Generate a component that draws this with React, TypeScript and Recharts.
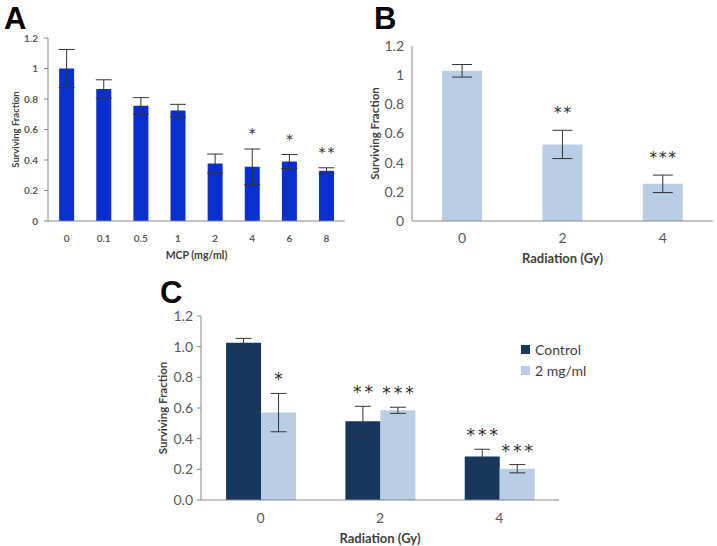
import { BarChart, Bar, XAxis, YAxis, ErrorBar, LabelList, Label } from "recharts"

// Panel A: MCP dose response
const mcpDoses = ["0", "0.1", "0.5", "1", "2", "4", "6", "8"]
const mcpSurvival = [1.0, 0.866, 0.755, 0.724, 0.377, 0.355, 0.39, 0.329]
const mcpError = [0.125, 0.06, 0.054, 0.041, 0.062, 0.117, 0.046, 0.02]
const mcpStars = ["", "", "", "", "", "*", "*", "**"]

// Panel B: radiation alone
const radDoses = ["0", "2", "4"]
const radSurvival = [1.03, 0.525, 0.255]
const radError = [0.043, 0.097, 0.06]
const radStars = ["", "**", "***"]

// Panel C: radiation +/- 2 mg/ml MCP
const comboSeries = ["Control", "2 mg/ml"]
const controlSurvival = [1.026, 0.513, 0.283]
const controlError = [0.028, 0.098, 0.048]
const controlStars = ["", "**", "***"]
const mcpComboSurvival = [0.57, 0.585, 0.204]
const mcpComboError = [0.125, 0.02, 0.027]
const mcpComboStars = ["*", "***", "***"]

const ticks12 = [0, 0.2, 0.4, 0.6, 0.8, 1, 1.2]

const dataA = mcpDoses.map((d, i) => ({ dose: d, sf: mcpSurvival[i], err: mcpError[i], stars: mcpStars[i] }))
const dataB = radDoses.map((d, i) => ({ dose: d, sf: radSurvival[i], err: radError[i], stars: radStars[i] }))
const dataC = radDoses.map((d, i) => ({
  dose: d,
  control: controlSurvival[i],
  controlErr: controlError[i],
  controlStars: controlStars[i],
  mcp: mcpComboSurvival[i],
  mcpErr: mcpComboError[i],
  mcpStars: mcpComboStars[i],
}))

const FONT = "Lato, 'Open Sans', Arial, sans-serif"
const AXIS = "#868686"
const TICK = "#595959"
const TITLE = "#404040"
const NAVY = "#17375e"
const LIGHT = "#b9cde5"

// draws significance stars above the error bar, using the bar's own pixel scale
const starLabel = (values: number[], errs: number[], stars: string[], lift: number, size: number, spacing: number) =>
  (p: any) => {
    const i = p.index
    if (i == null || !stars[i]) return null
    const pxPerUnit = p.height / values[i]
    const top = p.y - errs[i] * pxPerUnit
    return (
      <text
        x={p.x + p.width / 2 + spacing / 2}
        y={top - lift}
        textAnchor="middle"
        fontSize={size}
        fontFamily="'DejaVu Sans', sans-serif"
        fill="#2a2a2a"
        stroke="none"
        letterSpacing={spacing}
      >
        {stars[i]}
      </text>
    )
  }

const fmt = (v: number) => String(Math.round(v * 10) / 10)

function PanelA() {
  return (
    <BarChart width={360} height={275} data={dataA} margin={{ top: 38, right: 15, left: 8, bottom: 14 }} barCategoryGap="30%">
      <XAxis
        dataKey="dose"
        height={40}
        tickLine={false}
        stroke={AXIS}
        tick={{ fontSize: 10, fill: TICK, fontFamily: FONT, fontWeight: 700 }}
        tickMargin={8}
      >
        <Label value="MCP (mg/ml)" position="insideBottom" offset={2} style={{ fontSize: 10.5, fontWeight: 700, fill: TITLE, fontFamily: FONT }} />
      </XAxis>
      <YAxis
        width={40}
        domain={[0, 1.2]}
        ticks={ticks12}
        tickFormatter={fmt}
        stroke={AXIS}
        tickSize={4}
        tickMargin={6}
        tick={{ fontSize: 10, fill: TICK, fontFamily: FONT, fontWeight: 700 }}
      >
        <Label value="Surviving Fraction" angle={-90} position="insideLeft" offset={8} style={{ textAnchor: "middle", fontSize: 9.5, fontWeight: 700, fill: TITLE, fontFamily: FONT }} />
      </YAxis>
      <Bar dataKey="sf" fill="#0a2fd0" isAnimationActive={false}>
        <ErrorBar dataKey="err" width={8} stroke="#333" strokeWidth={1} />
        <LabelList dataKey="stars" content={starLabel(mcpSurvival, mcpError, mcpStars, 11, 14, 2)} />
      </Bar>
    </BarChart>
  )
}

function PanelB() {
  return (
    <BarChart width={357} height={275} data={dataB} margin={{ top: 46, right: 4, left: 12, bottom: 14 }} barCategoryGap="30%">
      <XAxis
        dataKey="dose"
        height={40}
        tickLine={false}
        stroke={AXIS}
        tick={{ fontSize: 14, fill: TICK, fontFamily: FONT }}
        tickMargin={6}
      >
        <Label value="Radiation (Gy)" position="insideBottom" offset={-2} style={{ fontSize: 13, fontWeight: 700, fill: TITLE, fontFamily: FONT }} />
      </XAxis>
      <YAxis
        width={40}
        domain={[0, 1.2]}
        ticks={ticks12}
        tickFormatter={fmt}
        stroke={AXIS}
        tickSize={0}
        tickMargin={8}
        tick={{ fontSize: 14, fill: TICK, fontFamily: FONT }}
      >
        <Label value="Surviving Fraction" angle={-90} position="insideLeft" offset={3} style={{ textAnchor: "middle", fontSize: 11.5, fontWeight: 700, fill: TITLE, fontFamily: FONT }} />
      </YAxis>
      <Bar dataKey="sf" fill={LIGHT} isAnimationActive={false}>
        <ErrorBar dataKey="err" width={10} stroke="#333" strokeWidth={1} />
        <LabelList dataKey="stars" content={starLabel(radSurvival, radError, radStars, 12, 15, 2)} />
      </Bar>
    </BarChart>
  )
}

function ComboLegend() {
  return (
    <div style={{ fontFamily: FONT, fontSize: 14, color: TITLE }}>
      {comboSeries.map((name, i) => (
        <div key={name} style={{ display: "flex", alignItems: "center", height: 21 }}>
          <span style={{ width: 9, height: 9, background: i === 0 ? NAVY : LIGHT, marginRight: 5 }} />
          {name}
        </div>
      ))}
    </div>
  )
}

function PanelC() {
  return (
    <BarChart width={567} height={266} data={dataC} margin={{ top: 36, right: 158, left: 11, bottom: 6 }} barCategoryGap="21%" barGap={0}>
      <XAxis
        dataKey="dose"
        height={40}
        tickLine={false}
        stroke={AXIS}
        tick={{ fontSize: 14, fill: TICK, fontFamily: FONT }}
        tickMargin={7}
      >
        <Label value="Radiation (Gy)" position="insideBottom" offset={-3} style={{ fontSize: 13, fontWeight: 700, fill: TITLE, fontFamily: FONT }} />
      </XAxis>
      <YAxis
        width={40}
        domain={[0, 1.2]}
        ticks={ticks12}
        tickFormatter={(v: number) => v.toFixed(1)}
        stroke={AXIS}
        tickSize={4}
        tickMargin={4}
        tick={{ fontSize: 14, fill: TICK, fontFamily: FONT }}
      >
        <Label value="Surviving Fraction" angle={-90} position="insideLeft" offset={2} style={{ textAnchor: "middle", fontSize: 11.5, fontWeight: 700, fill: TITLE, fontFamily: FONT }} />
      </YAxis>
      <Bar dataKey="control" name="Control" fill={NAVY} isAnimationActive={false}>
        <ErrorBar dataKey="controlErr" width={8} stroke="#333" strokeWidth={1} />
        <LabelList dataKey="controlStars" content={starLabel(controlSurvival, controlError, controlStars, 8, 17, 3)} />
      </Bar>
      <Bar dataKey="mcp" name="2 mg/ml" fill={LIGHT} isAnimationActive={false}>
        <ErrorBar dataKey="mcpErr" width={8} stroke="#333" strokeWidth={1} />
        <LabelList dataKey="mcpStars" content={starLabel(mcpComboSurvival, mcpComboError, mcpComboStars, 8, 17, 3)} />
      </Bar>
    </BarChart>
  )
}

const letter: React.CSSProperties = {
  position: "absolute",
  fontFamily: "'Liberation Sans', Arial, sans-serif",
  fontWeight: 700,
  fontSize: 31,
  lineHeight: "31px",
  color: "#000",
}

export default function App() {
  return (
    <div style={{ position: "absolute", left: 0, top: 0, width: 717, height: 546, background: "#fff", overflow: "hidden" }}>
      <div style={{ position: "absolute", left: 0, top: 0 }}><PanelA /></div>
      <div style={{ position: "absolute", left: 360, top: 0 }}><PanelB /></div>
      <div style={{ position: "absolute", left: 150, top: 280 }}><PanelC /></div>
      <div style={{ position: "absolute", left: 521, top: 339 }}><ComboLegend /></div>
      <div style={{ ...letter, left: 4, top: 3 }}>A</div>
      <div style={{ ...letter, left: 374, top: 3 }}>B</div>
      <div style={{ ...letter, left: 160, top: 277 }}>C</div>
    </div>
  )
}
